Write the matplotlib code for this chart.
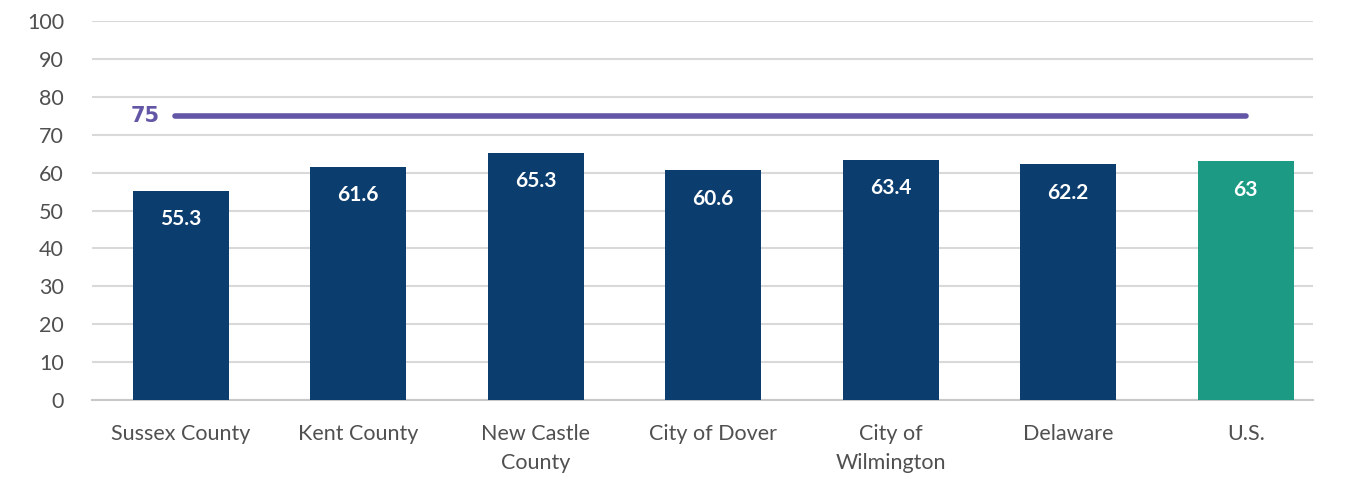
import matplotlib
matplotlib.use("Agg")
import matplotlib.pyplot as plt

# Bar values by area
areas = ["Sussex County", "Kent County", "New Castle\nCounty", "City of Dover",
         "City of\nWilmington", "Delaware", "U.S."]
values = [55.3, 61.6, 65.3, 60.6, 63.4, 62.2, 63]
target = 75
yticks = [0, 10, 20, 30, 40, 50, 60, 70, 80, 90, 100]

navy = "#0b3d6e"
teal = "#1c9a83"
purple = "#6456a6"
colors = [navy] * 6 + [teal]

plt.rcParams["font.family"] = ["Lato", "DejaVu Sans"]

fig = plt.figure(figsize=(13.51, 4.8), dpi=100)
ax = fig.add_axes([0.068, 0.1667, 0.904, 0.789])

x = list(range(len(areas)))
bars = ax.bar(x, values, width=0.54, color=colors, zorder=3)

# value labels inside the bars
for xi, v in zip(x, values):
    ax.text(xi, v - 7.5, f"{v:g}", ha="center", va="center", color="white",
            fontsize=15, fontweight="bold", zorder=4)

# target line
ax.plot([-0.03, 6.0], [target, target], color=purple, lw=4,
        solid_capstyle="round", zorder=4)
ax.text(-0.2, target, str(target), ha="center", va="center", color=purple,
        fontsize=15, fontweight="bold", family="DejaVu Sans", zorder=4)

ax.set_ylim(0, 100)
ax.set_xlim(-0.5, 6.38)
ax.set_yticks(yticks)
ax.set_xticks(x)
ax.set_xticklabels(areas, fontsize=15.5, color="#505050", linespacing=1.6)
ax.tick_params(axis="y", labelsize=15.5, labelcolor="#505050", length=0, pad=20)
ax.tick_params(axis="x", length=0, pad=17)
ax.yaxis.grid(True, color="#d9d9d9", lw=1.5, zorder=0)
for s in ["top", "right", "left"]:
    ax.spines[s].set_visible(False)
ax.spines["bottom"].set_color("#c8c8c8")
ax.spines["bottom"].set_linewidth(1.5)

fig.savefig("out.png", dpi=100)
